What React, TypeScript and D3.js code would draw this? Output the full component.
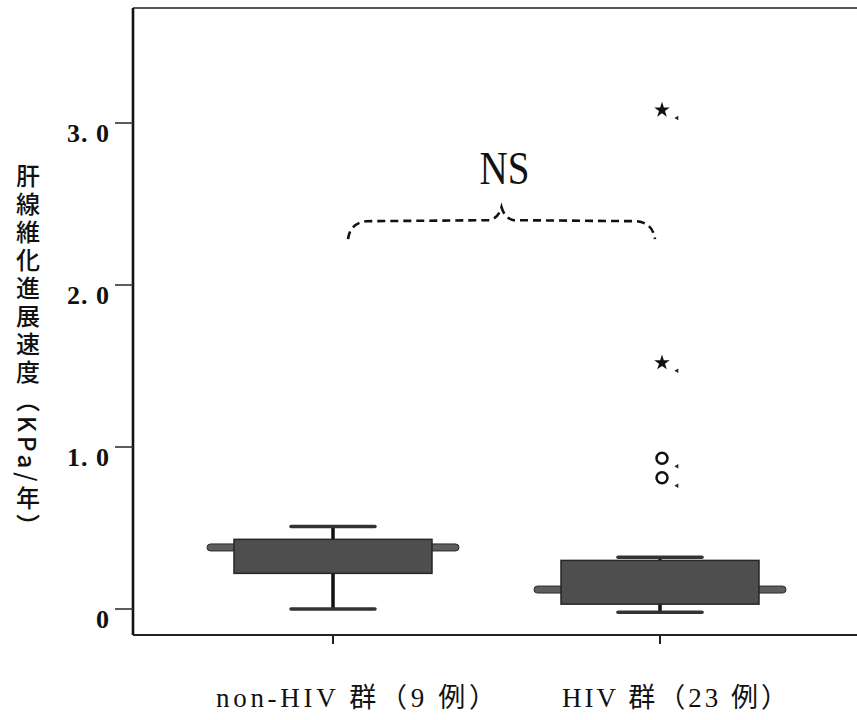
import React from 'react';
import * as d3 from 'd3';

// ---- data ----
const categories = ['non-HIV', 'HIV'];
const categoryLabels = ['non-HIV 群（9 例）', 'HIV 群（23 例）'];
const whiskerLow = [0.0, -0.02];
const q1 = [0.22, 0.03];
const median = [0.38, 0.12];
const q3 = [0.43, 0.3];
const whiskerHigh = [0.51, 0.32];
const outlierCategory = ['HIV', 'HIV', 'HIV', 'HIV'];
const outlierValues = [3.08, 1.52, 0.93, 0.81];
const outlierKinds = ['extreme', 'extreme', 'outlier', 'outlier'];
const yTickValues = [0, 1, 2, 3];
const yTickLabels = ['0', '1. 0', '2. 0', '3. 0'];
const yTitle = '肝線維化進展速度（KPa/年）';
const annotation = 'NS';
const bracketValue = 2.4;

const W = 857;
const H = 720;
const plotLeft = 133;
const plotTop = 8;
const axisBottom = 635;
const labelShift = [23, 15];
const labelWidth = [280, 226];

export default function App() {
  const y = d3.scaleLinear().domain([0, 3]).range([609, 123]);
  const x = d3.scalePoint<string>().domain(categories).range([333, 660]);

  const boxHalf = 99;
  const stubHalf = 126;
  const capHalf = 42;

  const x1 = (x(categories[0]) as number) + 15;
  const x2 = (x(categories[1]) as number) - 5;
  const mid = (x1 + x2) / 2;
  const yb = y(bracketValue);
  const bp = d3.path();
  bp.moveTo(x1, yb + 19);
  bp.quadraticCurveTo(x1 + 2, yb + 3, x1 + 18, yb + 1);
  bp.lineTo(mid - 12, yb);
  bp.quadraticCurveTo(mid - 3, yb - 2, mid, yb - 13);
  bp.quadraticCurveTo(mid + 3, yb - 2, mid + 12, yb);
  bp.lineTo(x2 - 18, yb + 1);
  bp.quadraticCurveTo(x2 - 2, yb + 3, x2, yb + 19);

  const star = d3.symbol().type(d3.symbolStar).size(75)() as string;
  const tri = d3.symbol().type(d3.symbolTriangle).size(9)() as string;

  return (
    <div style={{ position: 'absolute', left: 0, top: 0 }}>
      <svg width={W} height={H} style={{ display: 'block', background: '#fff' }}>
        {/* frame */}
        <line x1={plotLeft} y1={plotTop} x2={W} y2={plotTop} stroke="#222" strokeWidth={1.6} />
        <line x1={plotLeft} y1={plotTop} x2={plotLeft} y2={axisBottom} stroke="#111" strokeWidth={2.6} />
        <line x1={plotLeft} y1={axisBottom} x2={W} y2={axisBottom} stroke="#222" strokeWidth={2} />

        {/* y ticks */}
        {yTickValues.map((v, i) => (
          <g key={'yt' + i}>
            <line x1={115} x2={plotLeft} y1={y(v)} y2={y(v)} stroke="#333" strokeWidth={1.6} />
            <text
              x={110}
              y={y(v) + 19}
              textAnchor="end"
              fontFamily="Liberation Serif, DejaVu Serif, serif"
              fontWeight="bold"
              fontSize={26}
              letterSpacing={1}
              fill="#111"
            >
              {yTickLabels[i]}
            </text>
          </g>
        ))}

        {/* y title */}
        <text
          x={28}
          y={164}
          style={{ writingMode: 'vertical-rl' } as any}
          fontFamily="Noto Sans CJK JP, sans-serif"
          fontSize={24}
          fontWeight={500}
          letterSpacing={4}
          fill="#111"
        >
          {yTitle}
        </text>

        {/* x ticks and labels */}
        {categories.map((c, i) => (
          <g key={'xt' + i}>
            <line x1={x(c)} x2={x(c)} y1={axisBottom} y2={axisBottom + 9} stroke="#222" strokeWidth={2} />
            <text
              x={(x(c) as number) + labelShift[i]}
              y={707}
              textAnchor="middle"
              fontFamily="Liberation Serif, Noto Sans CJK JP, serif"
              fontSize={27}
              textLength={labelWidth[i]}
              lengthAdjust="spacing"
              fill="#111"
            >
              {categoryLabels[i]}
            </text>
          </g>
        ))}

        {/* boxes */}
        {categories.map((c, i) => {
          const cx = x(c) as number;
          return (
            <g key={'box' + i}>
              <line x1={cx} x2={cx} y1={y(q3[i])} y2={y(whiskerHigh[i])} stroke="#111" strokeWidth={3.5} />
              <line x1={cx} x2={cx} y1={y(q1[i])} y2={y(whiskerLow[i])} stroke="#111" strokeWidth={3.5} />
              <line x1={cx - capHalf} x2={cx + capHalf} y1={y(whiskerHigh[i])} y2={y(whiskerHigh[i])} stroke="#333" strokeWidth={3.5} strokeLinecap="round" />
              <line x1={cx - capHalf} x2={cx + capHalf} y1={y(whiskerLow[i])} y2={y(whiskerLow[i])} stroke="#333" strokeWidth={3.5} strokeLinecap="round" />
              <rect
                x={cx - stubHalf}
                y={y(median[i]) - 3.5}
                width={stubHalf * 2}
                height={7}
                rx={3.5}
                fill="#5e5e5e"
                stroke="#2a2a2a"
                strokeWidth={1}
              />
              <rect
                x={cx - boxHalf}
                y={y(q3[i])}
                width={boxHalf * 2}
                height={y(q1[i]) - y(q3[i])}
                fill="#4e4e4e"
                stroke="#262626"
                strokeWidth={1.5}
              />
            </g>
          );
        })}

        {/* outliers */}
        {outlierValues.map((v, i) => {
          const cx = (x(outlierCategory[i]) as number) + 2;
          const cy = y(v);
          return (
            <g key={'o' + i}>
              {outlierKinds[i] === 'extreme' ? (
                <path d={star} transform={`translate(${cx},${cy})`} fill="#111" />
              ) : (
                <circle cx={cx} cy={cy} r={5.5} fill="none" stroke="#111" strokeWidth={2.5} />
              )}
              <path d={tri} transform={`translate(${cx + 15},${cy + 8}) rotate(-90)`} fill="#222" />
            </g>
          );
        })}

        {/* NS bracket */}
        <path d={bp.toString()} fill="none" stroke="#111" strokeWidth={2.6} strokeDasharray="8 5" />
        <text
          x={mid + 3}
          y={yb - 36}
          textAnchor="middle"
          fontFamily="Liberation Serif, serif"
          fontSize={46}
          textLength={50}
          lengthAdjust="spacingAndGlyphs"
          fill="#111"
        >
          {annotation}
        </text>
      </svg>
    </div>
  );
}
